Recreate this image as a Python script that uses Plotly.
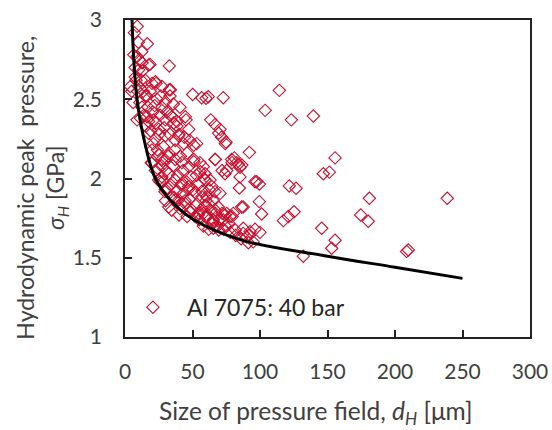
import plotly.graph_objects as go

# Scatter data: size of pressure field d_H [um] and peak pressure sigma_H [GPa]
d_h = [
    9.9, 16.5, 32.8, 18.5, 50.1, 56.8, 60.0, 61.7, 72.8, 114.3, 103.8, 123.2, 139.5,
    63.5, 66.7, 70.4, 71.6, 74.8, 92.1, 66.7, 79.0, 82.7, 85.2, 75.3, 74.1, 155.6, 151.4,
    59.3, 85.2, 84.7, 96.3, 99.5, 121.7, 126.7, 99.5, 101.2, 86.4, 87.5, 59.3, 65.4,
    181.0, 238.7, 174.6, 180.2, 117.3, 121.0, 125.2, 145.7, 155.6, 153.1, 209.9, 208.6,
    132.1, 87.6, 92.1, 91.4, 96.3, 65.4, 72.8, 77.8, 80.2, 146.9, 23.0, 32.8, 45.2, 40.7,
    35.8, 33.3, 16.1, 53.1, 46.9, 42.0, 34.6, 54.3, 75.3, 81.0, 84.0, 86.5, 97.5,
    58.0, 63.0, 66.7, 60.5, 70.4, 69.1, 74.1, 58.0, 65.4, 87.6, 92.6,
    8.9, 12.6, 10.1, 17.5, 20.0, 22.5, 27.4, 33.6, 23.7, 27.4, 29.9, 12.6, 16.3, 21.2,
    29.9, 34.8, 38.5, 44.7, 47.2, 39.8, 24.9, 17.5, 10.1, 7.6, 15.0, 8.9,
    22.5, 29.9, 37.3, 43.5, 50.9, 69.4, 74.3, 66.9, 71.9, 79.3, 20.0, 24.9, 27.4, 32.4,
    37.3, 42.2, 47.2, 50.9, 55.8, 59.5, 64.4, 22.5, 27.4, 32.4, 37.3, 42.2, 47.2, 52.1,
    57.0, 62.0, 66.9, 71.9, 79.3, 76.8, 34.8, 39.8, 44.7, 49.6, 54.6, 59.5, 64.4, 69.4,
    29.9, 24.9, 32.4, 74.3, 81.7, 19.8, 25.9, 29.6, 37.0, 40.7,
    6.5, 7.5, 8.2, 9.5, 11.0, 12.0, 13.5, 14.0, 15.5, 17.0, 18.5, 19.0, 20.5, 21.0, 23.0,
    24.0, 25.5, 26.0, 27.0, 28.5, 29.0, 30.5, 31.0, 32.0, 33.0, 34.0, 35.5, 36.0, 37.0,
    38.0, 39.0, 40.0, 41.0, 42.5, 43.0, 44.0, 45.5, 46.0, 47.5, 48.0, 49.0, 50.5, 51.0,
    52.5, 53.0, 54.0, 55.5, 56.0, 57.0, 58.5, 60.0, 61.0, 62.5, 63.5, 65.0, 67.0, 68.5,
    70.0, 11.5, 13.0, 10.5, 7.0, 9.0, 12.5, 15.0, 17.5, 19.5, 22.0, 24.5, 26.5, 28.0,
    29.5, 31.5, 33.5, 36.5, 38.5, 41.5, 44.5, 48.5, 52.0, 55.0, 58.0, 62.0, 73.0, 78.0,
    82.0, 86.0, 90.0, 95.0, 100.0, 4.0, 5.0, 6.0, 30.0, 40.0, 46.0,
]
sigma_h = [
    2.86, 2.85, 2.71, 2.72, 2.53, 2.51, 2.506, 2.516, 2.51, 2.556, 2.43, 2.37, 2.394,
    2.37, 2.34, 2.31, 2.26, 2.23, 2.165, 2.12, 2.12, 2.10, 2.07, 2.05, 2.03, 2.13, 2.04,
    2.03, 2.01, 1.94, 1.98, 1.965, 1.953, 1.938, 1.854, 1.776, 1.82, 1.82, 1.83, 1.86,
    1.875, 1.875, 1.77, 1.73, 1.734, 1.76, 1.79, 1.686, 1.61, 1.56, 1.549, 1.54,
    1.51, 1.654, 1.643, 1.595, 1.68, 1.686, 1.738, 1.76, 1.78, 2.03, 2.60, 2.56, 2.37, 2.45,
    2.47, 2.52, 2.52, 2.22, 1.93, 1.84, 1.80, 1.77, 1.78, 2.13, 2.09, 2.085, 1.98,
    2.075, 1.99, 1.917, 1.885, 1.906, 1.82, 1.77, 1.78, 1.738, 1.686, 1.665,
    2.77, 2.73, 2.685, 2.716, 2.60, 2.61, 2.58, 2.56, 2.50, 2.45, 2.485, 2.45, 2.39, 2.37,
    2.37, 2.39, 2.33, 2.39, 2.31, 2.27, 2.31, 2.285, 2.58, 2.64, 2.52, 2.37,
    2.25, 2.27, 2.24, 2.22, 2.21, 2.285, 2.22, 2.12, 2.05, 2.10, 2.18, 2.15, 2.12, 2.16,
    2.12, 2.10, 2.075, 2.106, 2.043, 1.99, 1.95, 2.05, 2.01, 2.03, 1.99, 1.97, 1.95, 1.91,
    1.885, 1.84, 1.80, 1.78, 1.76, 1.72, 1.885, 1.865, 1.84, 1.80, 1.78, 1.76, 1.717, 1.675,
    1.93, 1.99, 1.82, 1.70, 1.675, 2.096, 1.98, 1.917, 1.865, 1.81,
    2.78, 2.70, 2.62, 2.55, 2.48, 2.62, 2.55, 2.40, 2.33, 2.45, 2.55, 2.30, 2.42, 2.22, 2.35,
    2.18, 2.28, 2.40, 2.08, 2.20, 2.32, 2.05, 2.42, 2.14, 2.28, 1.96, 2.08, 2.35, 2.18,
    1.92, 2.02, 2.28, 2.14, 1.90, 2.05, 2.26, 1.98, 2.16, 1.87, 2.24, 2.01, 1.93, 2.12,
    1.83, 2.02, 1.96, 2.10, 1.80, 1.92, 2.00, 1.86, 1.76, 1.93, 1.80, 1.72, 1.78, 1.70,
    1.74, 2.38, 2.68, 2.75, 2.92, 2.96, 2.80, 2.62, 2.36, 2.10, 2.46, 2.06, 2.52, 1.98,
    2.12, 1.94, 2.40, 1.88, 2.36, 1.96, 1.86, 1.79, 1.76, 1.74, 1.70, 1.68, 1.68, 1.66,
    1.64, 1.62, 1.63, 1.60, 1.66, 2.58, 2.55, 2.48, 1.86, 1.77, 1.76,
]

# Fitted trend line
fit_x = [5.2, 6.5, 8.9, 13.5, 22.5, 35.0, 51.0, 87.0, 150.0, 200.0, 250.0]
fit_y = [3.0, 2.75, 2.5, 2.27, 2.0, 1.85, 1.74, 1.61, 1.51, 1.44, 1.37]

x_ticks = [0, 50, 100, 150, 200, 250, 300]
y_ticks = [1, 1.5, 2, 2.5, 3]

x_title = "Size of pressure field, <i>d</i><sub><i>H</i></sub> [μm]"
y_title = "Hydrodynamic peak  pressure,<br><i>σ</i><sub><i>H</i></sub> [GPa]"

FONT = "Lato, 'Open Sans', sans-serif"
GREY = "#404040"

fig = go.Figure()
fig.add_trace(go.Scatter(
    x=d_h, y=sigma_h, mode="markers", name="Al 7075: 40 bar",
    marker=dict(symbol="diamond-open", size=9.5, color="#C8102E", line=dict(width=1.1)),
))
fig.add_trace(go.Scatter(
    x=fit_x, y=fit_y, mode="lines", line=dict(color="black", width=3, shape="spline"),
    showlegend=False, hoverinfo="skip",
))

axis_common = dict(
    showgrid=False, zeroline=False, showline=True, mirror=True, automargin=False,
    linecolor="#222222", linewidth=1.5, ticks="inside", ticklen=7,
    tickcolor="#222222", tickwidth=1.5, ticklabeloverflow="allow",
    tickfont=dict(family=FONT, size=21, color=GREY),
)

fig.update_layout(
    width=552, height=430,
    margin=dict(l=125, r=22, t=20, b=93),
    paper_bgcolor="white", plot_bgcolor="white",
    font=dict(family=FONT, color=GREY),
    xaxis=dict(range=[0, 300], tickvals=x_ticks, ticklabelstandoff=15, **axis_common),
    yaxis=dict(range=[1, 3], tickvals=y_ticks, ticklabelstandoff=17, **axis_common),
    legend=dict(x=-0.015, y=0.026, xanchor="left", yanchor="bottom",
                bgcolor="rgba(0,0,0,0)", itemwidth=58,
                font=dict(family=FONT, size=23, color="#262626")),
    showlegend=True,
    annotations=[
        dict(text=x_title, xref="paper", yref="paper", x=0.4716, y=-0.237,
             xanchor="center", yanchor="middle", showarrow=False,
             font=dict(family=FONT, size=24.5, color=GREY)),
        dict(text=y_title, xref="paper", yref="paper", x=-0.205, y=0.471,
             xanchor="center", yanchor="middle", showarrow=False, textangle=-90,
             font=dict(family=FONT, size=23, color=GREY)),
    ],
)

fig.write_html(
    "out.html",
    config={"displayModeBar": False},
    post_script="document.body.style.margin='0px';document.body.style.overflow='hidden';",
)
